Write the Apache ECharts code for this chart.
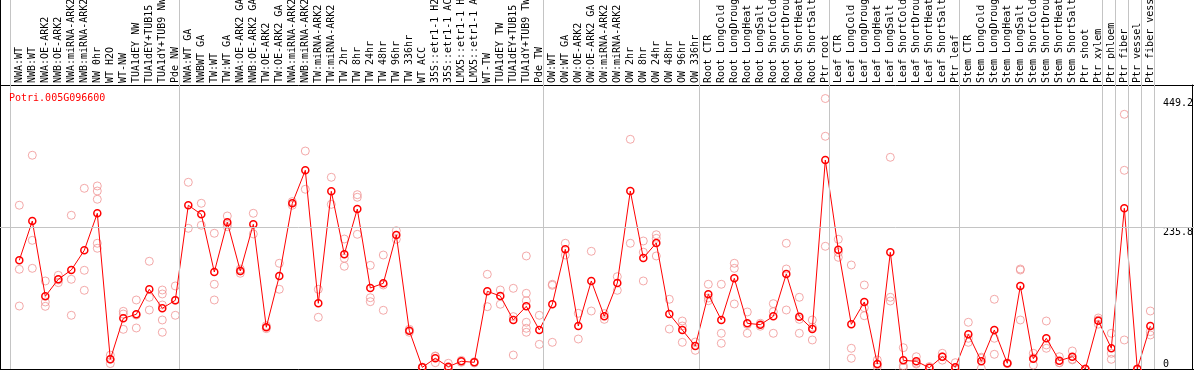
<!DOCTYPE html>
<html><head><meta charset="utf-8">
<script src="https://cdn.jsdelivr.net/npm/echarts@6/dist/echarts.min.js"></script>
<style>html,body{margin:0;padding:0;background:#fff}#c{width:1194px;height:370px}</style>
</head><body><div id="c"></div>
<script>
const GENE = 'Potri.005G096600';
const CATEGORIES = [
 'NWA:WT','NWB:WT','NWA:OE-ARK2','NWB:OE-ARK2','NWA:miRNA-ARK2','NWB:miRNA-ARK2','NW 0hr','WT H2O','WT-NW','TUA1dEY NW','TUA1dEY+TUB15 NW','TUA1dY+TUB9 NW','Pde NW',
 'NWA:WT GA','NWBWT GA','TW:WT','TW:WT GA','NWA:OE-ARK2 GA','NWB:OE-ARK2 GA','TW:OE-ARK2','TW:OE-ARK2 GA','NWA:miRNA-ARK2 GA','NWB:miRNA-ARK2 GA','TW:miRNA-ARK2','TW:miRNA-ARK2 GA','TW 2hr','TW 8hr','TW 24hr','TW 48hr','TW 96hr','TW 336hr','WT ACC','35S::etr1-1 H2O','35S::etr1-1 ACC','LMX5::etr1-1 H2O','LMX5::etr1-1 ACC','WT-TW','TUA1dEY TW','TUA1dEY+TUB15 TW','TUA1dY+TUB9 TW','Pde TW',
 'OW:WT','OW:WT GA','OW:OE-ARK2','OW:OE-ARK2 GA','OW:miRNA-ARK2','OW:miRNA-ARK2 GA','OW 2hr','OW 8hr','OW 24hr','OW 48hr','OW 96hr','OW 336hr',
 'Root CTR','Root LongCold','Root LongDrought','Root LongHeat','Root LongSalt','Root ShortCold','Root ShortDrought','Root ShortHeat','Root ShortSalt','Ptr root',
 'Leaf CTR','Leaf LongCold','Leaf LongDrought','Leaf LongHeat','Leaf LongSalt','Leaf ShortCold','Leaf ShortDrought','Leaf ShortHeat','Leaf ShortSalt','Ptr leaf',
 'Stem CTR','Stem LongCold','Stem LongDrought','Stem LongHeat','Stem LongSalt','Stem ShortCold','Stem ShortDrought','Stem ShortHeat','Stem ShortSalt','Ptr shoot','Ptr xylem',
 'Ptr phloem','Ptr fiber','Ptr vessel','Ptr fiber vessel'
];
const MEANS = [
 180.5,245.8,120.7,149,164.4,197.1,258.6,16.1,84.2,90.8,132.4,100.8,114.1,
 271.9,256.9,161.1,243.6,162.8,240.3,69.3,154.5,275.2,330,109.1,295.1,190.5,265.7,134.5,142.3,222.6,63.6,2.8,17.8,3.8,12.8,11.1,129,121.2,81.4,104.1,64.8,
 107.5,198.8,71.4,146.2,87.5,142.8,295.6,184.4,209.3,91.3,64.8,38.2,
 124.1,81.4,150.6,75.9,73.6,87.5,157.8,86.9,66.4,347.1,
 198.1,74.2,111.3,8.3,193.8,14.4,12.8,2.2,20.4,2.8,
 57.6,12.8,64.8,9.5,137.9,17.1,51,13.8,20.4,0,80.2,
 34.4,266.9,0,71.4
];
const REPLICATES = [
 [272,165.6,104.6],[355,213.7,167.2],[146.2,111.3,104.1],[155.6,143.4,148],[255.3,149,89.2],[300.1,163.9,130.7],[304,295.6,281.9,208.8,200.5],[23,16,9],[95.8,91.3,65.9],[114.6,68.1,89.7],[178.9,119.1,98],[131.2,124.6,106.3,81.4,61],[137.9,89.2,114],
 [310.1,233.7],[275.2,238.7],[225.4,140.7,114.6],[254.1,236.4,240],[166,159,163],[258.6,224.3],[72,67],[175.6,132.4],[278,272],[362,298.5],[132.4,85.9],[318.4,273.5],[215.9,183.9,170.6],[289.5,285.2,223.7],[172.2,118.4,111.8],[189.3,139.5,97.5],[229.7,215.4],[66,61],[3,2,3],[21.6,10.5,21],[9.5,1,1],[14.4,11.1],[12,10],[157.3,103.5],[131.2,107.5],[134,23.2,87],[187.7,125.7,113.4,77.6,67.6,61],[89.2,41],
 [140.7,44.3,139],[208.8,189.3],[92.5,49.8],[195.5,96.3],[92,82.5],[153.3,130.7],[381.5,208.8],[212.6,146.2,194],[223,217,187.7],[115.8,66.4],[79.7,44.3,71.4],[44.8,31],
 [140.7,113.4,118],[140.7,59.3,42.7],[175.6,167.2,108],[94.7,59.3,74],[76,71],[108.5,95.2,59.3],[208.8,166.1,98],[119.1,82.5,59.3],[81.4,48.2,69.6],[449.2,386.5,203.8],
 [215.4,185.5,193.4],[172.7,34.4,17.8],[139.5,101.8,88.5],[15,3,7],[351.6,119.1,112.9],[35.4,5.5,2.2],[20.4,8.3,9.7],[4,1,1.5],[26.1,20.4,14.7],[10.5,0,0],
 [77.6,44.3,51],[17.8,1,19.6],[115.8,51,24.4],[10,9,9.5],[166.1,164.4,81.4],[26.1,6.6,18.6],[79.7,39.9,34.4],[20.4,10.5,10.5],[29.9,16.1,15.2],[0,0,0],[84.7,81.4,74.5],
 [59.3,26.1,16.1],[423,330,48.2],[0,0,0],[96.3,62,56.5]
];
const GROUP_STARTS = [0,13,41,53,63,73,84,85,86,87,88];
const Y_LABELS_TOP = [235.8, 449.2];
const Y_LABELS_BOTTOM = [0];
const Y_DATA_MAX = 449.2;

const FONT = 'DejaVu Sans Mono';
const X_MIN = -1.4846, X_MAX = 90.36;
const yTop = Y_DATA_MAX * 1.05;
const boundaryLines = GROUP_STARTS.map(s => ({xAxis: s - 0.66}));
const repData = [];
REPLICATES.forEach((arr, i) => arr.forEach(v => repData.push([i, v])));
const meanData = MEANS.map((v, i) => [i, v]);
const blackLine = {show: true, onZero: false, lineStyle: {color: '#000', width: 1}};
const off = {show: false};
const offLine = {show: false, onZero: false};

const chart = echarts.init(document.getElementById('c'), null, {renderer: 'canvas'});
chart.setOption({
  animation: false,
  backgroundColor: '#fff',
  title: {text: GENE, left: 9, top: 93, padding: 0, textStyle: {color: '#ff0000', fontFamily: FONT, fontSize: 10, fontWeight: 'normal'}},
  grid: [
    {left: 0, right: 0, top: 85, bottom: 1, containLabel: false, outerBoundsMode: 'none'},
    {left: 0, right: 0, top: 0, height: 85, containLabel: false, outerBoundsMode: 'none'},
    {left: 12.8, width: 1144, top: 85, bottom: 1, containLabel: false, outerBoundsMode: 'none'}
  ],
  xAxis: [
    {gridIndex: 0, type: 'value', min: X_MIN, max: X_MAX, position: 'top', axisLine: blackLine, axisTick: off, axisLabel: off, splitLine: off},
    {gridIndex: 0, type: 'value', min: X_MIN, max: X_MAX, position: 'bottom', axisLine: blackLine, axisTick: off, axisLabel: off, splitLine: off},
    {gridIndex: 1, type: 'value', min: X_MIN, max: X_MAX, show: false, axisLine: offLine},
    {gridIndex: 2, type: 'category', data: CATEGORIES, position: 'top', boundaryGap: true, axisLine: offLine, axisTick: off, splitLine: off,
     axisLabel: {interval: 0, rotate: -90, margin: 2, align: 'left', verticalAlign: 'middle', fontFamily: FONT, fontSize: 10, color: '#000'}}
  ],
  yAxis: [
    {gridIndex: 0, type: 'value', min: 0, max: yTop, position: 'left', axisLine: blackLine, axisTick: off, axisLabel: off, splitLine: off},
    {gridIndex: 0, type: 'value', min: 0, max: yTop, position: 'right', offset: -2, axisLine: blackLine, axisTick: off, splitLine: off,
     axisLabel: {inside: true, align: 'left', margin: 29, verticalAlign: 'top', customValues: Y_LABELS_TOP, formatter: v => String(v), fontFamily: FONT, fontSize: 10, color: '#000'}},
    {gridIndex: 0, type: 'value', min: 0, max: yTop, position: 'right', offset: -2, axisLine: offLine, axisTick: off, splitLine: off,
     axisLabel: {inside: true, align: 'left', margin: 29, verticalAlign: 'bottom', customValues: Y_LABELS_BOTTOM, formatter: v => String(v), fontFamily: FONT, fontSize: 10, color: '#000'}},
    {gridIndex: 1, type: 'value', min: 0, max: 1, position: 'left', axisLine: blackLine, axisTick: off, axisLabel: off, splitLine: off},
    {gridIndex: 2, type: 'value', show: false, axisLine: offLine}
  ],
  series: [
    {type: 'scatter', xAxisIndex: 0, yAxisIndex: 0, data: repData, symbol: 'circle', symbolSize: 8, silent: true, z: 2,
     itemStyle: {color: 'rgba(0,0,0,0)', borderColor: '#f09494', borderWidth: 1},
     markLine: {silent: true, symbol: 'none', label: off, animation: false,
       lineStyle: {color: '#c4c4c4', type: 'solid', width: 1},
       emphasis: {disabled: true},
       data: boundaryLines.concat([{yAxis: Y_LABELS_TOP[0]}])}},
    {type: 'line', xAxisIndex: 0, yAxisIndex: 0, data: meanData, symbol: 'circle', symbolSize: 7, silent: true, z: 3,
     itemStyle: {color: 'rgba(0,0,0,0)', borderColor: '#ff0000', borderWidth: 1.5},
     lineStyle: {color: '#ff0000', width: 1}},
    {type: 'scatter', xAxisIndex: 2, yAxisIndex: 3, data: [[0, 0.5]], symbolSize: 0, silent: true,
     markLine: {silent: true, symbol: 'none', label: off, animation: false,
       lineStyle: {color: '#c4c4c4', type: 'solid', width: 1},
       emphasis: {disabled: true},
       data: boundaryLines}}
  ]
});
</script></body></html>
